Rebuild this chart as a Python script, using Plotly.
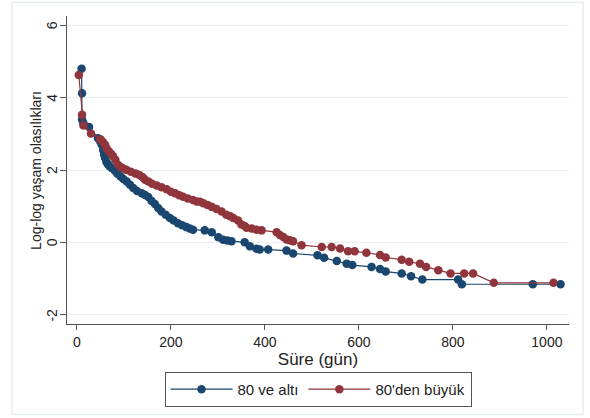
import plotly.graph_objects as go

# Log-log survival estimates by group (time in days)
grp1_name = "80 ve altı"
grp1_t = [10, 11, 11, 14, 26, 45, 50, 53, 56, 58, 60, 63, 66, 70, 75, 81, 86, 93, 99,
          106, 113, 120, 128, 138, 145, 152, 159, 166, 173, 180, 189, 198, 206, 215,
          224, 233, 240, 247, 272, 287, 301, 311, 320, 329, 357, 368, 382, 389, 407,
          446, 460, 512, 526, 553, 574, 586, 627, 645, 657, 691, 711, 735, 811, 819,
          970, 1029]
grp1_ll = [4.80, 4.12, 3.40, 3.29, 3.19, 2.88, 2.78, 2.70, 2.55, 2.42, 2.33, 2.22, 2.16,
           2.10, 2.05, 1.98, 1.90, 1.82, 1.75, 1.68, 1.59, 1.50, 1.42, 1.36, 1.31, 1.25,
           1.14, 1.06, 0.95, 0.85, 0.76, 0.67, 0.60, 0.53, 0.47, 0.42, 0.38, 0.35, 0.33,
           0.28, 0.14, 0.07, 0.05, 0.03, 0.00, -0.11, -0.18, -0.20, -0.20, -0.23, -0.31,
           -0.36, -0.43, -0.52, -0.59, -0.63, -0.68, -0.74, -0.81, -0.86, -0.94, -1.03,
           -1.03, -1.16, -1.16, -1.16]

grp2_name = "80'den büyük"
grp2_t = [4, 11, 14, 30, 50, 55, 60, 63, 68, 73, 77, 82, 88, 95, 101, 106, 115, 125, 133,
          140, 145, 152, 160, 170, 180, 191, 200, 209, 218, 226, 236, 247, 255, 262, 269,
          278, 287, 297, 308, 318, 326, 333, 343, 350, 357, 361, 372, 382, 393, 425, 432,
          439, 446, 453, 460, 478, 521, 542, 560, 577, 591, 616, 645, 657, 691, 707, 730,
          743, 769, 795, 824, 843, 887, 1014]
grp2_ll = [4.63, 3.53, 3.23, 3.01, 2.85, 2.78, 2.70, 2.60, 2.52, 2.45, 2.38, 2.28, 2.14,
           2.07, 2.03, 2.00, 1.95, 1.90, 1.86, 1.80, 1.73, 1.68, 1.62, 1.57, 1.52, 1.47,
           1.40, 1.36, 1.30, 1.26, 1.21, 1.17, 1.13, 1.12, 1.08, 1.03, 0.98, 0.92, 0.85,
           0.76, 0.72, 0.67, 0.60, 0.49, 0.45, 0.40, 0.38, 0.35, 0.33, 0.28, 0.20, 0.15,
           0.08, 0.06, 0.03, -0.08, -0.13, -0.13, -0.17, -0.25, -0.25, -0.29, -0.35, -0.42,
           -0.48, -0.54, -0.59, -0.68, -0.77, -0.86, -0.86, -0.86, -1.12, -1.12]

x_ticks = [0, 200, 400, 600, 800, 1000]
y_ticks = [-2, 0, 2, 4, 6]
x_title = "Süre (gün)"
y_title = "Log-log yaşam olasılıkları"

NAVY = "#1a476f"
MAROON = "#90353b"
FONT = "Arial, Liberation Sans, sans-serif"

fig = go.Figure()
for name, t, ll, col in [(grp1_name, grp1_t, grp1_ll, NAVY),
                         (grp2_name, grp2_t, grp2_ll, MAROON)]:
    fig.add_trace(go.Scatter(
        x=t, y=ll, name=name, mode="lines+markers",
        line=dict(color=col, width=1.2),
        marker=dict(color=col, size=8.5, line=dict(width=0)),
    ))

# Vertical y-axis labels sit close to the tick marks
y_labels = [dict(
    text=str(v), xref="paper", yref="y", x=-0.030, y=v,
    textangle=-90, showarrow=False, xanchor="center", yanchor="middle",
    font=dict(size=14),
) for v in y_ticks]

fig.update_layout(
    width=590, height=418,
    margin=dict(l=67, r=21, t=16, b=93),
    paper_bgcolor="white", plot_bgcolor="white",
    font=dict(family=FONT, size=14, color="#222"),
    showlegend=True,
    legend=dict(
        orientation="h", x=0.5, xanchor="center", y=-0.152, yanchor="top",
        bordercolor="#555", borderwidth=1, bgcolor="white",
        itemwidth=62, font=dict(size=15), traceorder="normal",
    ),
    xaxis=dict(
        range=[-21, 1047], tickvals=x_ticks, showgrid=False, zeroline=False,
        showline=True, linecolor="#555", linewidth=1.2,
        ticks="outside", ticklen=5, tickcolor="#555",
        title=dict(text=x_title, standoff=2),
    ),
    yaxis=dict(
        range=[-2.26, 6.26], tickvals=y_ticks, showticklabels=False,
        showgrid=True, gridcolor="#e8eff1", gridwidth=1, zeroline=False,
        showline=True, linecolor="#555", linewidth=1.2,
        ticks="outside", ticklen=6, tickcolor="#555",
    ),
    annotations=y_labels + [dict(
        text=y_title, xref="paper", yref="paper", x=-0.062, y=0.5,
        textangle=-90, showarrow=False, xanchor="center", yanchor="middle",
        font=dict(size=14),
    )],
    shapes=[dict(
        type="rect", xref="paper", yref="paper",
        x0=-0.1096, x1=1.028, y0=-0.294, y1=1.044,
        line=dict(color="#e6eef0", width=1.5), layer="below",
    )],
)

fig.write_html("out.html")
